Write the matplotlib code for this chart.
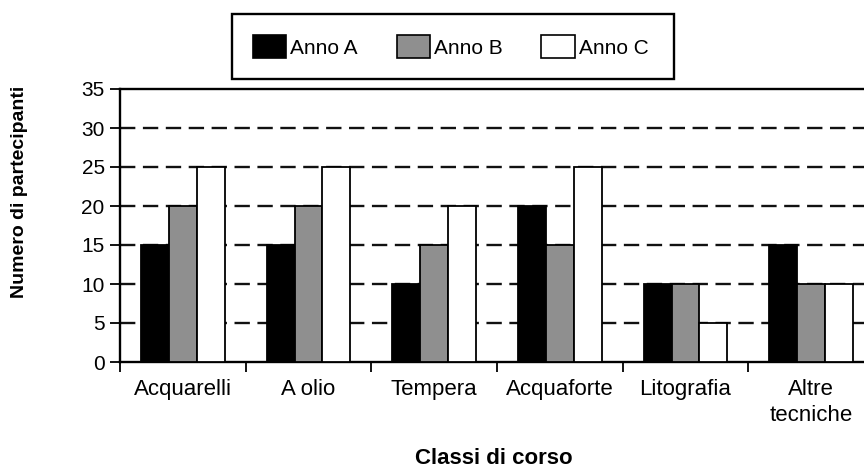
import matplotlib
matplotlib.use("Agg")
import matplotlib.pyplot as plt
import numpy as np
from matplotlib.patches import Patch, Rectangle

plt.rcParams['font.family'] = ['Liberation Sans', 'DejaVu Sans']

categories = ["Acquarelli", "A olio", "Tempera", "Acquaforte", "Litografia", "Altre\ntecniche"]
series_names = ["Anno A", "Anno B", "Anno C"]
anno_a = [15, 15, 10, 20, 10, 15]
anno_b = [20, 20, 15, 15, 10, 10]
anno_c = [25, 25, 20, 25, 5, 10]
yticks = [0, 5, 10, 15, 20, 25, 30, 35]
colors = ["#000000", "#8f8f8f", "#ffffff"]

W, H = 864, 468
fig = plt.figure(figsize=(W / 100, H / 100), dpi=100)
ax = fig.add_axes([120 / W, 1 - 362 / H, (874 - 120) / W, (362 - 89) / H])

x = np.arange(len(categories))
w = 1 / 4.5
for i, (vals, c) in enumerate(zip([anno_a, anno_b, anno_c], colors)):
    ax.bar(x + (i - 1) * w, vals, width=w, color=c, edgecolor="black",
           linewidth=1.3, zorder=3)

ax.set_xlim(-0.5, len(categories) - 0.5)
ax.set_ylim(0, 35)
ax.set_yticks(yticks)
ax.set_yticklabels([str(v) for v in yticks], fontsize=15)
for yv in yticks[1:-1]:
    ax.axhline(yv, color="#111111", linewidth=1.7, dashes=(6.5, 3.2), zorder=1)

ax.set_xticks(x)
ax.set_xticklabels(categories, fontsize=16, linespacing=1.35)
ax.tick_params(axis="x", which="major", length=0, pad=12)
ax.set_xticks(np.arange(-0.5, len(categories), 1.0), minor=True)
ax.tick_params(axis="x", which="minor", length=7, width=1.3, direction="out")
ax.tick_params(axis="y", length=7, width=1.3, direction="out", pad=4)

for s in ["left", "bottom", "top"]:
    ax.spines[s].set_linewidth(1.7)
    ax.spines[s].set_color("black")
ax.spines["right"].set_visible(False)

fig.text(494 / W, 1 - 459 / H, "Classi di corso", fontsize=16, fontweight="bold",
         ha="center", va="center")
fig.text(20 / W, 1 - 192 / H, "Numero di partecipanti", fontsize=14,
         fontweight="bold", rotation=90, ha="center", va="center")

handles = [Patch(facecolor=c, edgecolor="black", linewidth=1.2) for c in colors]
leg = fig.legend(handles, series_names, ncol=3, loc="center left",
                 bbox_to_anchor=(253 / W, 1 - 46.5 / H), borderaxespad=0,
                 fontsize=15, handlelength=1.6, handleheight=1.25,
                 handletextpad=0.2, columnspacing=1.85, borderpad=0,
                 frameon=False)
fig.add_artist(Rectangle((232 / W, 1 - 79 / H), (674 - 232) / W, (79 - 14) / H,
                         transform=fig.transFigure, facecolor="none",
                         edgecolor="black", linewidth=1.7))

fig.savefig("out.png", dpi=100)
